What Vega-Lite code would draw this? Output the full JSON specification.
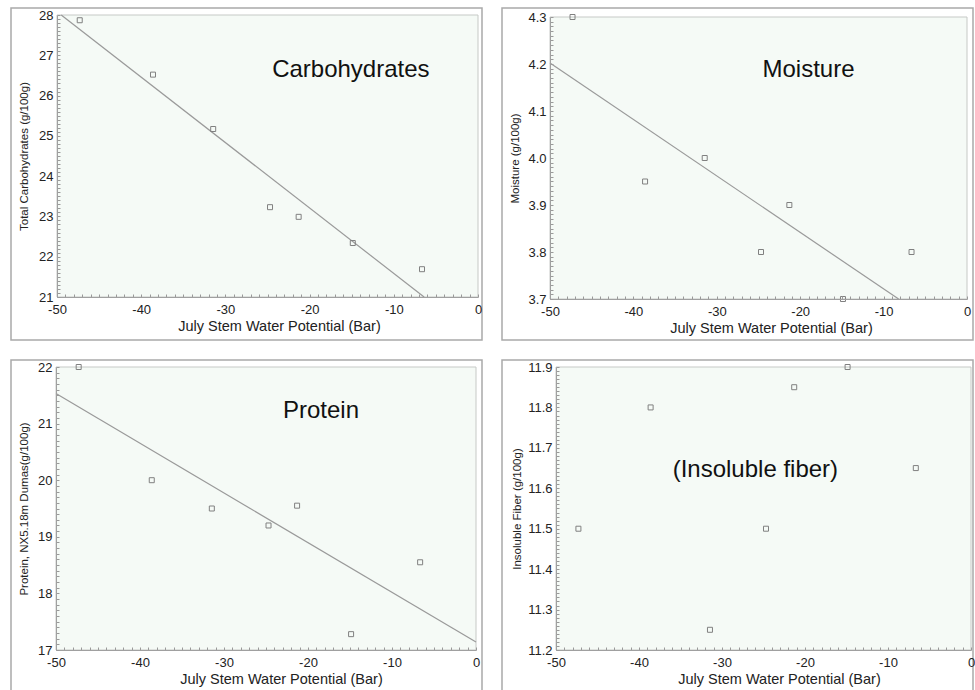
{
  "$schema": "https://vega.github.io/schema/vega-lite/v6.json",
  "background": "white",
  "padding": {"left": 10, "top": 7, "right": 0, "bottom": 0},
  "spacing": {"row": 18, "column": 18},
  "columns": 2,
  "datasets": {
    "points": [
      {"potential": -47.3, "carbs": 27.87, "moisture": 4.30, "protein": 22.0, "fiber": 11.5},
      {"potential": -38.6, "carbs": 26.52, "moisture": 3.95, "protein": 20.0, "fiber": 11.8},
      {"potential": -31.45, "carbs": 25.17, "moisture": 4.00, "protein": 19.5, "fiber": 11.25},
      {"potential": -24.7, "carbs": 23.23, "moisture": 3.80, "protein": 19.2, "fiber": 11.5},
      {"potential": -21.3, "carbs": 22.99, "moisture": 3.90, "protein": 19.55, "fiber": 11.85},
      {"potential": -14.87, "carbs": 22.34, "moisture": 3.70, "protein": 17.28, "fiber": 11.9},
      {"potential": -6.65, "carbs": 21.69, "moisture": 3.80, "protein": 18.55, "fiber": 11.65}
    ],
    "fits": [
      {"nutrient": "carbs", "potential": -49.5, "value": 28.0},
      {"nutrient": "carbs", "potential": -6.4, "value": 21.0},
      {"nutrient": "moisture", "potential": -50, "value": 4.202},
      {"nutrient": "moisture", "potential": -8.2, "value": 3.7},
      {"nutrient": "protein", "potential": -50, "value": 21.53},
      {"nutrient": "protein", "potential": 0, "value": 17.14}
    ],
    "labels": [
      {"nutrient": "carbs", "potential": -15.1, "value": 26.63, "label": "Carbohydrates"},
      {"nutrient": "moisture", "potential": -19.0, "value": 4.187, "label": "Moisture"},
      {"nutrient": "protein", "potential": -18.45, "value": 21.23, "label": "Protein"},
      {"nutrient": "fiber", "potential": -25.98, "value": 11.644, "label": "(Insoluble fiber)"}
    ]
  },
  "config": {
    "view": {"stroke": "#a9a9a9", "strokeWidth": 1.5, "fill": "white"},
    "locale": {"number": {"decimal": ".", "thousands": ",", "grouping": [3], "currency": ["$", ""], "minus": "-"}},
    "axis": {
      "grid": false,
      "labelFont": "Liberation Sans",
      "labelFontSize": 13,
      "labelColor": "#222222",
      "titleFont": "Liberation Sans",
      "titleFontWeight": "normal",
      "titleColor": "#222222",
      "domainColor": "#a0a0a0",
      "tickColor": "#9a9a9a",
      "tickSize": -3,
      "labelOverlap": false,
      "labelFlush": false,
      "zindex": 1
    },
    "axisX": {"labelPadding": 9, "titleFontSize": 14.5, "titleY": 33, "titleBaseline": "alphabetic"},
    "axisY": {"labelPadding": 7, "titleFontSize": 11.5, "titleAngle": -90, "titleBaseline": "bottom"},
    "text": {"font": "Liberation Sans"}
  },
  "concat": [
    {
      "width": 471, "height": 332,
      "layer": [
        {
          "data": {"values": [{}]},
          "mark": {"type": "rect", "fill": "#f5faf6", "stroke": "#c6c9c6", "strokeWidth": 1},
          "encoding": {
            "x": {"datum": -50, "type": "quantitative",
              "scale": {"domain": [-50, 0], "range": [46, 467], "nice": false, "zero": false},
              "axis": {"title": "July Stem Water Potential  (Bar)", "offset": -43, "titleX": 268, "zindex": 1, "labelOverlap": false, "labelFlush": false, "tickCount": 500,
                "values": [-50,-49,-48,-47,-46,-45,-44,-43,-42,-41,-40,-39,-38,-37,-36,-35,-34,-33,-32,-31,-30,-29,-28,-27,-26,-25,-24,-23,-22,-21,-20,-19,-18,-17,-16,-15,-14,-13,-12,-11,-10,-9,-8,-7,-6,-5,-4,-3,-2,-1,0],
                "labelExpr": "abs(datum.value % 10) < 1e-6 ? replace(format(datum.value, '.0f'), '\u2212', '-') : ''"}},
            "x2": {"datum": 0},
            "y": {"datum": 21, "type": "quantitative",
              "scale": {"domain": [21, 28], "range": [289, 7], "nice": false, "zero": false},
              "axis": {"title": "Total  Carbohydrates  (g/100g)", "offset": -46, "titleX": -28, "zindex": 1, "labelOverlap": false, "labelFlush": false, "tickCount": 500,
                "values": [21,21.1,21.2,21.3,21.4,21.5,21.6,21.7,21.8,21.9,22,22.1,22.2,22.3,22.4,22.5,22.6,22.7,22.8,22.9,23,23.1,23.2,23.3,23.4,23.5,23.6,23.7,23.8,23.9,24,24.1,24.2,24.3,24.4,24.5,24.6,24.7,24.8,24.9,25,25.1,25.2,25.3,25.4,25.5,25.6,25.7,25.8,25.9,26,26.1,26.2,26.3,26.4,26.5,26.6,26.7,26.8,26.9,27,27.1,27.2,27.3,27.4,27.5,27.6,27.7,27.8,27.9,28],
                "labelExpr": "abs(datum.value - round(datum.value)) < 1e-6 ? format(datum.value, '.0f') : ''"}},
            "y2": {"datum": 28}
          }
        },
        {
          "data": {"name": "fits"},
          "transform": [{"filter": "datum.nutrient === 'carbs'"}],
          "mark": {"type": "line", "color": "#9a9a9a", "strokeWidth": 1.2},
          "encoding": {"x": {"field": "potential", "type": "quantitative"}, "y": {"field": "value", "type": "quantitative"}}
        },
        {
          "data": {"name": "points"},
          "mark": {"type": "point", "shape": "square", "size": 25, "filled": false, "stroke": "#808080", "strokeWidth": 1, "opacity": 1},
          "encoding": {"x": {"field": "potential", "type": "quantitative"}, "y": {"field": "carbs", "type": "quantitative"}}
        },
        {
          "data": {"name": "labels"},
          "transform": [{"filter": "datum.nutrient === 'carbs'"}],
          "mark": {"type": "text", "fontSize": 24, "color": "#111111", "align": "center", "baseline": "middle"},
          "encoding": {"x": {"field": "potential", "type": "quantitative"}, "y": {"field": "value", "type": "quantitative"}, "text": {"field": "label"}}
        }
      ]
    },
    {
      "width": 471, "height": 332,
      "layer": [
        {
          "data": {"values": [{}]},
          "mark": {"type": "rect", "fill": "#f5faf6", "stroke": "#c6c9c6", "strokeWidth": 1},
          "encoding": {
            "x": {"datum": -50, "type": "quantitative",
              "scale": {"domain": [-50, 0], "range": [48, 465], "nice": false, "zero": false},
              "axis": {"title": "July Stem Water Potential  (Bar)", "offset": -41, "titleX": 269, "zindex": 1, "labelOverlap": false, "labelFlush": false, "tickCount": 500,
                "values": [-50,-49,-48,-47,-46,-45,-44,-43,-42,-41,-40,-39,-38,-37,-36,-35,-34,-33,-32,-31,-30,-29,-28,-27,-26,-25,-24,-23,-22,-21,-20,-19,-18,-17,-16,-15,-14,-13,-12,-11,-10,-9,-8,-7,-6,-5,-4,-3,-2,-1,0],
                "labelExpr": "abs(datum.value % 10) < 1e-6 ? replace(format(datum.value, '.0f'), '\u2212', '-') : ''"}},
            "x2": {"datum": 0},
            "y": {"datum": 3.7, "type": "quantitative",
              "scale": {"domain": [3.7, 4.3], "range": [291, 9], "nice": false, "zero": false},
              "axis": {"title": "Moisture  (g/100g)", "offset": -48, "titleX": -30, "zindex": 1, "labelOverlap": false, "labelFlush": false, "tickCount": 500,
                "values": [3.7,3.71,3.72,3.73,3.74,3.75,3.76,3.77,3.78,3.79,3.8,3.81,3.82,3.83,3.84,3.85,3.86,3.87,3.88,3.89,3.9,3.91,3.92,3.93,3.94,3.95,3.96,3.97,3.98,3.99,4,4.01,4.02,4.03,4.04,4.05,4.06,4.07,4.08,4.09,4.1,4.11,4.12,4.13,4.14,4.15,4.16,4.17,4.18,4.19,4.2,4.21,4.22,4.23,4.24,4.25,4.26,4.27,4.28,4.29,4.3],
                "labelExpr": "abs(datum.value * 10 - round(datum.value * 10)) < 1e-6 ? format(datum.value, '.1f') : ''"}},
            "y2": {"datum": 4.3}
          }
        },
        {
          "data": {"name": "fits"},
          "transform": [{"filter": "datum.nutrient === 'moisture'"}],
          "mark": {"type": "line", "color": "#9a9a9a", "strokeWidth": 1.2},
          "encoding": {"x": {"field": "potential", "type": "quantitative"}, "y": {"field": "value", "type": "quantitative"}}
        },
        {
          "data": {"name": "points"},
          "mark": {"type": "point", "shape": "square", "size": 25, "filled": false, "stroke": "#808080", "strokeWidth": 1, "opacity": 1},
          "encoding": {"x": {"field": "potential", "type": "quantitative"}, "y": {"field": "moisture", "type": "quantitative"}}
        },
        {
          "data": {"name": "labels"},
          "transform": [{"filter": "datum.nutrient === 'moisture'"}],
          "mark": {"type": "text", "fontSize": 24, "color": "#111111", "align": "center", "baseline": "middle"},
          "encoding": {"x": {"field": "potential", "type": "quantitative"}, "y": {"field": "value", "type": "quantitative"}, "text": {"field": "label"}}
        }
      ]
    },
    {
      "width": 471, "height": 332,
      "layer": [
        {
          "data": {"values": [{}]},
          "mark": {"type": "rect", "fill": "#f5faf6", "stroke": "#c6c9c6", "strokeWidth": 1},
          "encoding": {
            "x": {"datum": -50, "type": "quantitative",
              "scale": {"domain": [-50, 0], "range": [45, 465], "nice": false, "zero": false},
              "axis": {"title": "July Stem Water Potential  (Bar)", "offset": -42, "titleX": 270, "zindex": 1, "labelOverlap": false, "labelFlush": false, "tickCount": 500,
                "values": [-50,-49,-48,-47,-46,-45,-44,-43,-42,-41,-40,-39,-38,-37,-36,-35,-34,-33,-32,-31,-30,-29,-28,-27,-26,-25,-24,-23,-22,-21,-20,-19,-18,-17,-16,-15,-14,-13,-12,-11,-10,-9,-8,-7,-6,-5,-4,-3,-2,-1,0],
                "labelExpr": "abs(datum.value % 10) < 1e-6 ? replace(format(datum.value, '.0f'), '\u2212', '-') : ''"}},
            "x2": {"datum": 0},
            "y": {"datum": 17, "type": "quantitative",
              "scale": {"domain": [17, 22], "range": [290, 7], "nice": false, "zero": false},
              "axis": {"title": "Protein,  NX5.18m  Dumas(g/100g)", "offset": -45, "titleX": -27, "zindex": 1, "labelOverlap": false, "labelFlush": false, "tickCount": 500,
                "values": [17,17.1,17.2,17.3,17.4,17.5,17.6,17.7,17.8,17.9,18,18.1,18.2,18.3,18.4,18.5,18.6,18.7,18.8,18.9,19,19.1,19.2,19.3,19.4,19.5,19.6,19.7,19.8,19.9,20,20.1,20.2,20.3,20.4,20.5,20.6,20.7,20.8,20.9,21,21.1,21.2,21.3,21.4,21.5,21.6,21.7,21.8,21.9,22],
                "labelExpr": "abs(datum.value - round(datum.value)) < 1e-6 ? format(datum.value, '.0f') : ''"}},
            "y2": {"datum": 22}
          }
        },
        {
          "data": {"name": "fits"},
          "transform": [{"filter": "datum.nutrient === 'protein'"}],
          "mark": {"type": "line", "color": "#9a9a9a", "strokeWidth": 1.2},
          "encoding": {"x": {"field": "potential", "type": "quantitative"}, "y": {"field": "value", "type": "quantitative"}}
        },
        {
          "data": {"name": "points"},
          "mark": {"type": "point", "shape": "square", "size": 25, "filled": false, "stroke": "#808080", "strokeWidth": 1, "opacity": 1},
          "encoding": {"x": {"field": "potential", "type": "quantitative"}, "y": {"field": "protein", "type": "quantitative"}}
        },
        {
          "data": {"name": "labels"},
          "transform": [{"filter": "datum.nutrient === 'protein'"}],
          "mark": {"type": "text", "fontSize": 24, "color": "#111111", "align": "center", "baseline": "middle"},
          "encoding": {"x": {"field": "potential", "type": "quantitative"}, "y": {"field": "value", "type": "quantitative"}, "text": {"field": "label"}}
        }
      ]
    },
    {
      "width": 471, "height": 332,
      "layer": [
        {
          "data": {"values": [{}]},
          "mark": {"type": "rect", "fill": "#f5faf6", "stroke": "#c6c9c6", "strokeWidth": 1},
          "encoding": {
            "x": {"datum": -50, "type": "quantitative",
              "scale": {"domain": [-50, 0], "range": [54, 469], "nice": false, "zero": false},
              "axis": {"title": "July Stem Water Potential  (Bar)", "offset": -42, "titleX": 277, "zindex": 1, "labelOverlap": false, "labelFlush": false, "tickCount": 500,
                "values": [-50,-49,-48,-47,-46,-45,-44,-43,-42,-41,-40,-39,-38,-37,-36,-35,-34,-33,-32,-31,-30,-29,-28,-27,-26,-25,-24,-23,-22,-21,-20,-19,-18,-17,-16,-15,-14,-13,-12,-11,-10,-9,-8,-7,-6,-5,-4,-3,-2,-1,0],
                "labelExpr": "abs(datum.value % 10) < 1e-6 ? replace(format(datum.value, '.0f'), '\u2212', '-') : ''"}},
            "x2": {"datum": 0},
            "y": {"datum": 11.2, "type": "quantitative",
              "scale": {"domain": [11.2, 11.9], "range": [290, 7], "nice": false, "zero": false},
              "axis": {"title": "Insoluble  Fiber  (g/100g)", "offset": -54, "titleX": -34, "zindex": 1, "labelOverlap": false, "labelFlush": false, "tickCount": 500,
                "values": [11.2,11.21,11.22,11.23,11.24,11.25,11.26,11.27,11.28,11.29,11.3,11.31,11.32,11.33,11.34,11.35,11.36,11.37,11.38,11.39,11.4,11.41,11.42,11.43,11.44,11.45,11.46,11.47,11.48,11.49,11.5,11.51,11.52,11.53,11.54,11.55,11.56,11.57,11.58,11.59,11.6,11.61,11.62,11.63,11.64,11.65,11.66,11.67,11.68,11.69,11.7,11.71,11.72,11.73,11.74,11.75,11.76,11.77,11.78,11.79,11.8,11.81,11.82,11.83,11.84,11.85,11.86,11.87,11.88,11.89,11.9],
                "labelExpr": "abs(datum.value * 10 - round(datum.value * 10)) < 1e-6 ? format(datum.value, '.1f') : ''"}},
            "y2": {"datum": 11.9}
          }
        },
        {
          "data": {"name": "points"},
          "mark": {"type": "point", "shape": "square", "size": 25, "filled": false, "stroke": "#808080", "strokeWidth": 1, "opacity": 1},
          "encoding": {"x": {"field": "potential", "type": "quantitative"}, "y": {"field": "fiber", "type": "quantitative"}}
        },
        {
          "data": {"name": "labels"},
          "transform": [{"filter": "datum.nutrient === 'fiber'"}],
          "mark": {"type": "text", "fontSize": 24, "color": "#111111", "align": "center", "baseline": "middle"},
          "encoding": {"x": {"field": "potential", "type": "quantitative"}, "y": {"field": "value", "type": "quantitative"}, "text": {"field": "label"}}
        }
      ]
    }
  ]
}
